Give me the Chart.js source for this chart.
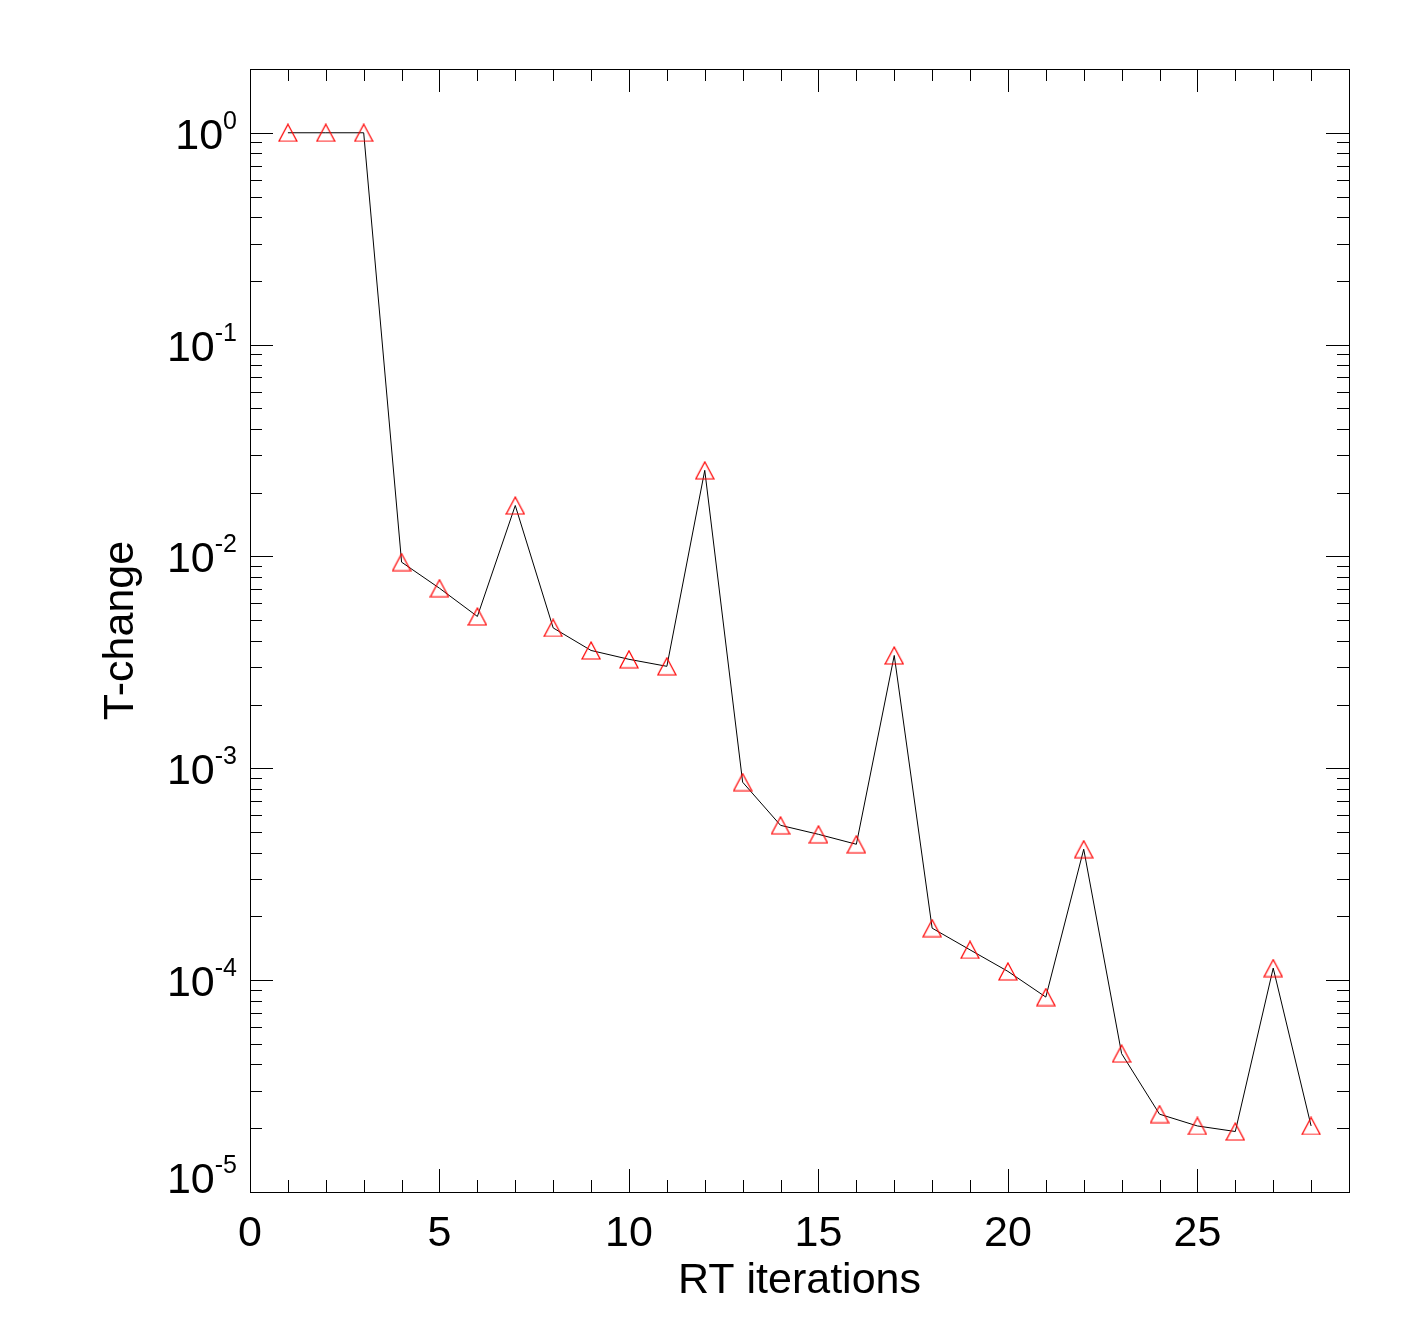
<!DOCTYPE html>
<html>
<head>
<meta charset="utf-8">
<script src="https://cdn.jsdelivr.net/npm/chart.js@4/dist/chart.umd.min.js"></script>
<style>
html,body{margin:0;padding:0;background:#fff;}
#wrap{width:1417px;height:1337px;position:relative;}
</style>
</head>
<body>
<div id="wrap"><canvas id="c" width="1417" height="1337"></canvas></div>
<script>
const iterations = [1,2,3,4,5,6,7,8,9,10,11,12,13,14,15,16,17,18,19,20,21,22,23,24,25,26,27,28];
const tChange = [1.0,1.0,1.0,0.0094,0.00708,0.00521,0.0174,0.0046,0.0036,0.00327,0.00303,0.0255,
  0.00086,0.000538,0.000488,0.000438,0.00341,0.000176,0.000139,0.000110,0.0000832,0.000415,
  0.000045,0.0000233,0.0000205,0.0000193,0.000114,0.0000205];
const xMajorTicks = [0,5,10,15,20,25];
const xMinorStep = 1;
const yDecades = [0,-1,-2,-3,-4,-5];
const xTitle = 'RT iterations';
const yTitle = 'T-change';

const FONT = "'Liberation Sans', Arial, Helvetica, sans-serif";

// triangle marker image
function makeTriangle(){
  const w = 20, h = 19;
  const cv = document.createElement('canvas');
  cv.width = w; cv.height = h;
  const g = cv.getContext('2d');
  g.strokeStyle = '#ff0000';
  g.lineWidth = 1.2;
  g.beginPath();
  g.moveTo(10, 1);
  g.lineTo(19, 18);
  g.lineTo(1, 18);
  g.closePath();
  g.stroke();
  return cv;
}
const tri = makeTriangle();

const axesPlugin = {
  id: 'idlAxes',
  afterDraw(chart){
    const ctx = chart.ctx;
    const xs = chart.scales.x, ys = chart.scales.y;
    const a = chart.chartArea;
    ctx.save();
    ctx.strokeStyle = '#000';
    ctx.lineWidth = 1;
    // frame
    ctx.strokeRect(Math.round(a.left)+0.5, Math.round(a.top)+0.5, Math.round(a.right-a.left), Math.round(a.bottom-a.top));
    ctx.beginPath();
    // x ticks
    for (let v = xs.min; v <= xs.max; v += xMinorStep){
      const px = Math.round(xs.getPixelForValue(v))+0.5;
      const len = xMajorTicks.includes(v) ? 23 : 12;
      ctx.moveTo(px, a.bottom); ctx.lineTo(px, a.bottom - len);
      ctx.moveTo(px, a.top); ctx.lineTo(px, a.top + len);
    }
    // y ticks
    for (const d of yDecades){
      for (let m = 1; m <= 9; m++){
        const v = m * Math.pow(10, d);
        if (v < ys.min*0.999 || v > ys.max*1.001) continue;
        const py = Math.round(ys.getPixelForValue(v))+0.5;
        const len = m === 1 ? 23 : 12;
        ctx.moveTo(a.left, py); ctx.lineTo(a.left + len, py);
        ctx.moveTo(a.right, py); ctx.lineTo(a.right - len, py);
      }
    }
    ctx.stroke();

    ctx.fillStyle = '#000';
    // x labels
    ctx.font = '43px ' + FONT;
    ctx.textAlign = 'center';
    ctx.textBaseline = 'alphabetic';
    for (const v of xMajorTicks){
      ctx.fillText(String(v), xs.getPixelForValue(v), a.bottom + 54);
    }
    // x title
    ctx.fillText(xTitle, (a.left + a.right)/2, a.bottom + 101);

    // y labels
    for (const d of yDecades){
      let py = ys.getPixelForValue(Math.pow(10, d));
      if (py > a.bottom - 20) py = a.bottom - 15; // lowest label kept above the x axis
      const main = '10', sup = String(d);
      ctx.font = '43px ' + FONT;
      const mw = ctx.measureText(main).width;
      ctx.font = '25px ' + FONT;
      const sw = ctx.measureText(sup).width;
      const right = a.left - 13;
      ctx.textAlign = 'left';
      ctx.font = '43px ' + FONT;
      ctx.fillText(main, right - sw - mw, py + 16);
      ctx.font = '25px ' + FONT;
      ctx.fillText(sup, right - sw, py - 4);
    }
    // y title
    ctx.font = '43px ' + FONT;
    ctx.textAlign = 'center';
    ctx.translate(133, (a.top + a.bottom)/2);
    ctx.rotate(-Math.PI/2);
    ctx.fillText(yTitle, 0, 0);
    ctx.restore();
  }
};

new Chart(document.getElementById('c'), {
  type: 'line',
  data: {
    datasets: [{
      data: iterations.map((x,i) => ({x: x, y: tChange[i]})),
      borderColor: '#000000',
      borderWidth: 1,
      tension: 0,
      fill: false,
      pointStyle: tri,
      pointRadius: 10,
      pointHoverRadius: 10
    }]
  },
  options: {
    responsive: false,
    animation: false,
    events: [],
    layout: { padding: { left: 250, top: 69, right: 68, bottom: 145 } },
    plugins: { legend: { display: false }, tooltip: { enabled: false } },
    scales: {
      x: { type: 'linear', min: 0, max: 29, display: false },
      y: { type: 'logarithmic', min: 1e-5, max: 2, display: false }
    }
  },
  plugins: [axesPlugin]
});
</script>
</body>
</html>
